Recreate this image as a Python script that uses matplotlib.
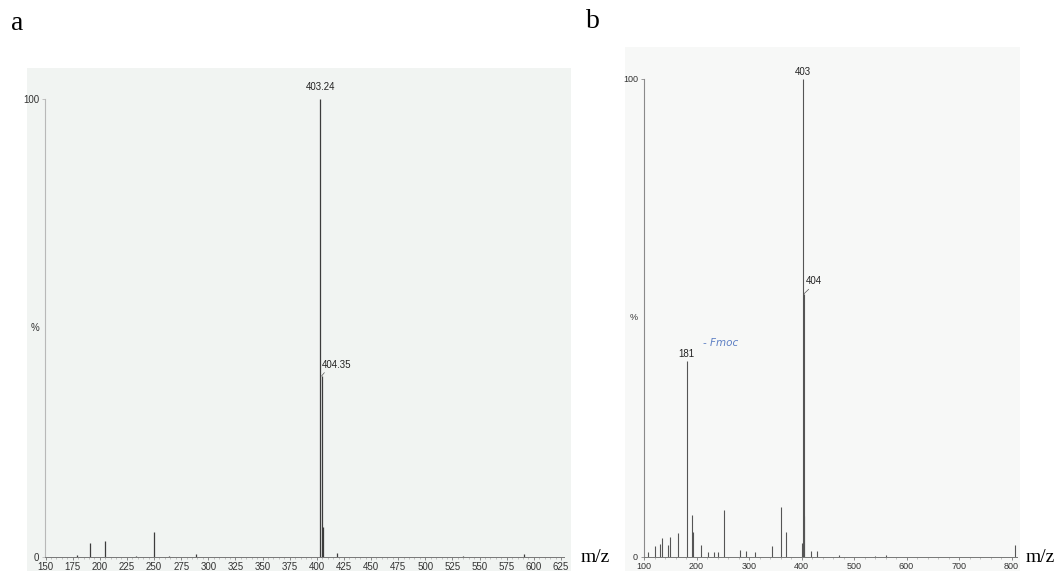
import matplotlib.pyplot as plt
from matplotlib.patches import Rectangle
from matplotlib.ticker import MultipleLocator

# spectrum a: m/z and relative intensity (%)
mz_a = [179, 191, 205, 233, 250, 264, 289, 403.24, 404.35, 405.3, 419, 535, 591]
int_a = [0.4, 3.1, 3.4, 0.3, 5.5, 0.3, 0.7, 100, 39.5, 6.5, 0.8, 0.3, 0.6]
ticks_a = list(range(150, 626, 25))

# spectrum b
mz_b = [107, 121, 131, 135, 145, 150, 165, 181, 191, 194, 208, 222, 233, 241,
        252, 283, 295, 311, 344, 360, 370, 401, 403, 404, 405, 418, 430, 472,
        540, 560, 806]
int_b = [1.0, 2.3, 2.8, 4.0, 2.6, 4.2, 5.0, 41, 8.8, 5.2, 2.6, 1.0, 1.0, 1.0,
         9.8, 1.4, 1.3, 1.0, 2.3, 10.5, 5.2, 2.9, 100, 55, 8.5, 1.3, 1.3, 0.5,
         0.3, 0.4, 2.6]
ticks_b = list(range(100, 801, 100))

W, H = 1059, 571
fig = plt.figure(figsize=(W / 100, H / 100), dpi=100)
fig.patch.set_facecolor('white')

SANS = 'Liberation Sans'
SERIF = 'Liberation Serif'


def box(x0, y0, x1, y1):
    # pixel box (origin top-left) -> figure fraction rect
    return [x0 / W, 1 - y1 / H, (x1 - x0) / W, (y1 - y0) / H]


# scanned paper backgrounds
for (x0, y0, x1, y1), col in [((27, 68, 571, 571), '#f1f4f2'),
                              ((625, 47, 1020, 571), '#f7f8f7')]:
    l, b, w, h = box(x0, y0, x1, y1)
    fig.add_artist(Rectangle((l, b), w, h, transform=fig.transFigure,
                             facecolor=col, edgecolor='none', zorder=0))


def style_axes(ax, xlim, ticks, minor, axis_col, label_size):
    ax.set_facecolor('none')
    ax.set_xlim(*xlim)
    ax.set_ylim(0, 100)
    for s in ('top', 'right'):
        ax.spines[s].set_visible(False)
    ax.spines['left'].set_color(axis_col)
    ax.spines['left'].set_linewidth(0.8)
    ax.spines['bottom'].set_color('#777777')
    ax.spines['bottom'].set_linewidth(0.7)
    ax.set_xticks(ticks)
    ax.xaxis.set_minor_locator(MultipleLocator(minor))
    ax.set_yticks([0, 100])
    ax.set_yticklabels(['0', '100'])
    ax.tick_params(axis='x', which='major', length=2, width=0.6, color='#777777',
                   pad=1.5, labelsize=label_size, labelcolor='#333333')
    ax.tick_params(axis='x', which='minor', length=1.2, width=0.4, color='#999999')
    ax.tick_params(axis='y', length=2, width=0.6, color=axis_col, pad=2,
                   labelsize=label_size, labelcolor='#333333')
    for t in ax.get_xticklabels() + ax.get_yticklabels():
        t.set_fontfamily(SANS)
    ax.annotate('%', xy=(0, 0.5), xycoords='axes fraction', xytext=(-4, 0),
                textcoords='offset points', ha='right', va='center',
                fontsize=label_size, family=SANS, color='#333333')


# ---- panel a ----
ax_a = fig.add_axes(box(45, 99, 564.2, 557))
style_axes(ax_a, (149.5, 628), ticks_a, 5, '#b8b8b8', 7)
ax_a.vlines(mz_a, 0, int_a, color='#3c3c3c', lw=0.9)
ax_a.annotate('403.24', xy=(403.24, 100), xytext=(0, 5), textcoords='offset points',
              ha='center', va='bottom', fontsize=7, family=SANS, color='#222222')
ax_a.annotate('404.35', xy=(404.35, 39.5), xytext=(0.5, 4.5), textcoords='offset points',
              ha='left', va='bottom', fontsize=7, family=SANS, color='#222222',
              arrowprops=dict(arrowstyle='-', lw=0.5, color='#555555',
                              relpos=(0.15, 0), shrinkA=0, shrinkB=0))

# ---- panel b ----
ax_b = fig.add_axes(box(643.5, 79, 1016.8, 557))
style_axes(ax_b, (99, 810), ticks_b, 20, '#8a8a8a', 6.5)
ax_b.vlines(mz_b, 0, int_b, color='#555555', lw=0.8)
for m, v in [(403, 100), (181, 41)]:
    ax_b.annotate(str(m), xy=(m, v), xytext=(0, 1.5), textcoords='offset points',
                  ha='center', va='bottom', fontsize=7, family=SANS, color='#222222')
ax_b.annotate('404', xy=(404, 55), xytext=(1.7, 5.5), textcoords='offset points',
              ha='left', va='bottom', fontsize=7, family=SANS, color='#222222',
              arrowprops=dict(arrowstyle='-', lw=0.5, color='#555555',
                              relpos=(0.35, 0), shrinkA=0, shrinkB=0))
ax_b.text(245, 44.8, '- Fmoc', ha='center', va='center', fontsize=7.5,
          family='DejaVu Sans', style='italic', color='#5d7fc4')

# panel letters and axis units
fig.text(17 / W, 1 - 24 / H, 'a', ha='center', va='center', family=SERIF, fontsize=20)
fig.text(593 / W, 1 - 21 / H, 'b', ha='center', va='center', family=SERIF, fontsize=20)
for x in (595.5, 1040):
    fig.text(x / W, 1 - 558 / H, 'm/z', ha='center', va='center', family=SERIF, fontsize=14)

fig.savefig('out.png', dpi=100)
